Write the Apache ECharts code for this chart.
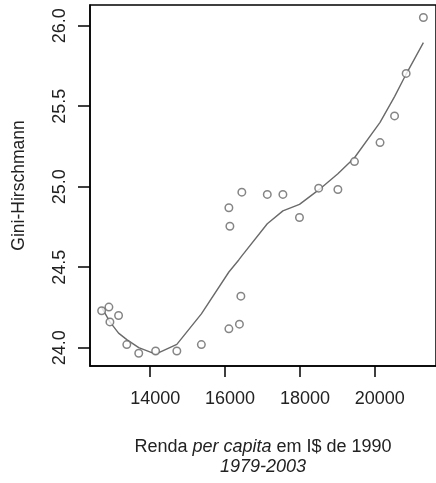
<!DOCTYPE html>
<html><head><meta charset="utf-8">
<script src="https://cdn.jsdelivr.net/npm/echarts@6/dist/echarts.min.js"></script>
<style>html,body{margin:0;padding:0;background:#fff}#c{width:436px;height:483px}</style>
</head><body><div id="c"></div>
<script>
// Observed points (renda per capita, Gini-Hirschmann)
var renda = [12717, 12911, 12938, 13169, 13389, 13708, 14159, 14726, 15381, 16116, 16143, 16116, 16398, 16436, 16462, 17142, 17559, 18002, 18515, 19028, 19471, 20154, 20542, 20852, 21312];
var gini  = [24.229, 24.252, 24.160, 24.200, 24.019, 23.965, 23.979, 23.979, 24.019, 24.869, 24.754, 24.117, 24.146, 24.320, 24.966, 24.952, 24.952, 24.809, 24.991, 24.983, 25.156, 25.274, 25.440, 25.704, 26.051];
// Smoothed (lowess) curve
var curveX = [12717, 12938, 13169, 13389, 13708, 14159, 14726, 15381, 16116, 16380, 16400, 16462, 17142, 17559, 18002, 18515, 19028, 19471, 20154, 20542, 20852, 21312];
var curveY = [24.25, 24.16, 24.09, 24.05, 24.00, 23.96, 24.02, 24.21, 24.47, 24.545, 24.555, 24.57, 24.77, 24.85, 24.89, 24.98, 25.08, 25.18, 25.40, 25.56, 25.70, 25.895];
var xTicks = [14000, 16000, 18000, 20000];
var yTicks = [24.0, 24.5, 25.0, 25.5, 26.0];

var pts = renda.map(function(v,i){return [v, gini[i]];});
var curve = curveX.map(function(v,i){return [v, curveY[i]];});
var font = 'Liberation Sans, Arial, sans-serif';
var txt = '#222';
var chart = echarts.init(document.getElementById('c'));
chart.setOption({
  animation: false,
  grid: {left: 90, top: 5, right: -2, bottom: 117, show: true, borderColor: '#000', borderWidth: 1.5, backgroundColor: 'transparent'},
  xAxis: {
    type: 'value', min: 12406, max: 21649,
    splitLine: {show: false},
    axisLine: {show: true, lineStyle: {color: '#000', width: 1.5}},
    axisTick: {show: true, length: 11, lineStyle: {color: '#000', width: 1.5}, customValues: xTicks},
    axisLabel: {fontFamily: font, fontSize: 18, color: txt, margin: 24, padding: [0,0,0,11], customValues: xTicks, formatter: function(v){return String(v);}},
    name: '{n|Renda }{i|per capita}{n| em I$ de 1990}\n{i|1979-2003}',
    nameLocation: 'middle', nameGap: 71,
    nameTextStyle: {fontFamily: font, fontSize: 18, color: txt, lineHeight: 20,
      rich: {n: {fontFamily: font, fontSize: 18, color: txt, lineHeight: 20}, i: {fontFamily: font, fontSize: 18, fontStyle: 'italic', color: txt, lineHeight: 20}}}
  },
  yAxis: {
    type: 'value', min: 23.886, max: 26.129,
    splitLine: {show: false},
    axisLine: {show: true, lineStyle: {color: '#000', width: 1.5}},
    axisTick: {show: true, length: 12, lineStyle: {color: '#000', width: 1.5}, customValues: yTicks},
    axisLabel: {fontFamily: font, fontSize: 18, color: txt, rotate: 90, margin: 21, customValues: yTicks, formatter: function(v){return v.toFixed(1);}},
    name: 'Gini-Hirschmann', nameLocation: 'middle', nameGap: 62, nameRotate: 90,
    nameTextStyle: {fontFamily: font, fontSize: 17.5, color: txt}
  },
  series: [
    {type: 'line', data: curve, symbol: 'none', smooth: false, lineStyle: {color: '#6a6a6a', width: 1.4}, z: 2},
    {type: 'scatter', data: pts, symbol: 'circle', symbolSize: 7.5, itemStyle: {color: '#fff', borderColor: '#666', borderWidth: 1.5}, z: 3}
  ]
});
</script></body></html>
